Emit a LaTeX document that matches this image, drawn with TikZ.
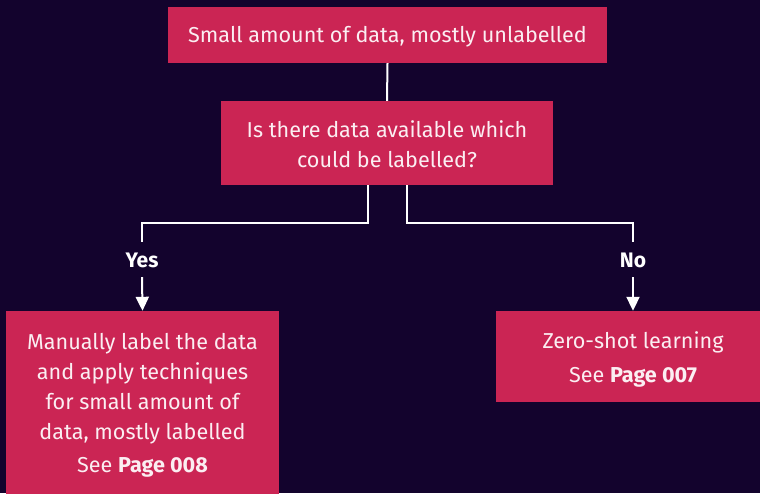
\documentclass[tikz,border=0pt]{standalone}
\usepackage{fontspec}
\setmainfont{Fira Sans}
\usetikzlibrary{arrows.meta}
\definecolor{bgdark}{HTML}{13032D}
\definecolor{boxpink}{HTML}{CB2554}
\definecolor{boxtext}{HTML}{FBEEF2}
\tikzset{
  flowbox/.style={fill=boxpink, text=boxtext, inner sep=0pt, align=center,
    font=\fontsize{21.6}{30}\selectfont},
  branchlabel/.style={text=white, inner sep=0pt, minimum height=35pt,
    text height=16pt, text depth=0pt, font=\fontsize{21}{24}\selectfont\bfseries},
  link/.style={draw=white, line width=2pt},
  arrowlink/.style={link, -{Triangle[width=13pt,length=14pt]}}
}
\begin{document}
\begin{tikzpicture}[x=1pt,y=-1pt]
  \useasboundingbox (0,0) rectangle (760,493);
  \fill[bgdark] (0,0) rectangle (760,493);
  \clip (0,0) rectangle (760,493);

  \node[flowbox, minimum width=439pt, minimum height=56pt] (start) at (387.5,35)
    {\rule{0pt}{19pt}Small amount of data, mostly unlabelled};
  \node[flowbox, minimum width=332pt, minimum height=84pt] (question) at (387,143)
    {\rule{0pt}{19pt}Is there data available which\\could be labelled?};
  \node[flowbox, minimum width=273pt, minimum height=188pt] (manual) at (142.5,405)
    {Manually label the data\\and apply techniques\\for small amount of\\data, mostly labelled\\[3pt]See \textbf{Page 008}};
  \node[flowbox, minimum width=274pt, minimum height=91pt] (zero) at (633,356.5)
    {\rule{0pt}{22pt}Zero-shot learning\\[4pt]See \textbf{Page 007}};

  \node[branchlabel] (yes) at (142,259.5) {Yes};
  \node[branchlabel] (no) at (633,259.5) {No};

  \draw[link] (start.south) -- (question.north);
  \draw[link] ([xshift=-19pt]question.south) |- ++(0,38) -| (yes.north);
  \draw[link] ([xshift=20pt]question.south) |- ++(0,38) -| (no.north);
  \draw[arrowlink] (yes.south) -- (manual.north);
  \draw[arrowlink] (no.south) -- (zero.north);
\end{tikzpicture}
\end{document}
